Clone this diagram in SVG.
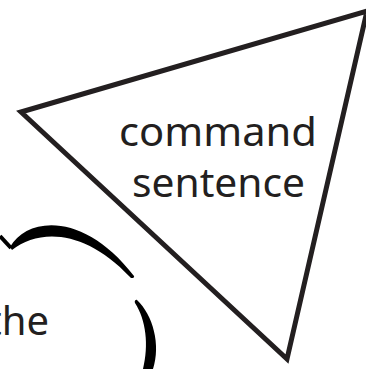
<svg xmlns="http://www.w3.org/2000/svg" width="366" height="369" viewBox="0 0 366 369">
<style>
.lbl{font-family:"Noto Sans","DejaVu Sans",sans-serif;font-size:40px;fill:#231f20;}
.edge{fill:none;stroke:#231f20;stroke-width:5;stroke-linejoin:miter;stroke-miterlimit:10;}
.ink{fill:#000;stroke:none;}
</style>
<rect width="366" height="369" fill="#fff"/>
<g id="triangle-node">
<polygon class="edge" points="21,112 367,11 287,359"/>
<text class="lbl" x="218" y="146" text-anchor="middle" textLength="198" lengthAdjust="spacingAndGlyphs">command</text>
<text class="lbl" x="218.5" y="197" text-anchor="middle" textLength="173" lengthAdjust="spacingAndGlyphs">sentence</text>
</g>
<g id="cloud-node">
<path d="M0 236 L11 248" stroke="#000" stroke-width="4" fill="none"/>
<path class="ink" d="M10 247 C28 216, 85 212, 134 276 C135 278, 131 279, 130 277 C86 230, 40 228, 12 250 Z"/>
<path class="ink" d="M137 300 C153 315, 161 345, 153 369 L143 369 C149 345, 146 320, 135 303 C134 301, 136 299, 137 300 Z"/>
<text class="lbl" x="49" y="335" text-anchor="end">the</text>
</g>
<g id="connectors"></g>
</svg>
